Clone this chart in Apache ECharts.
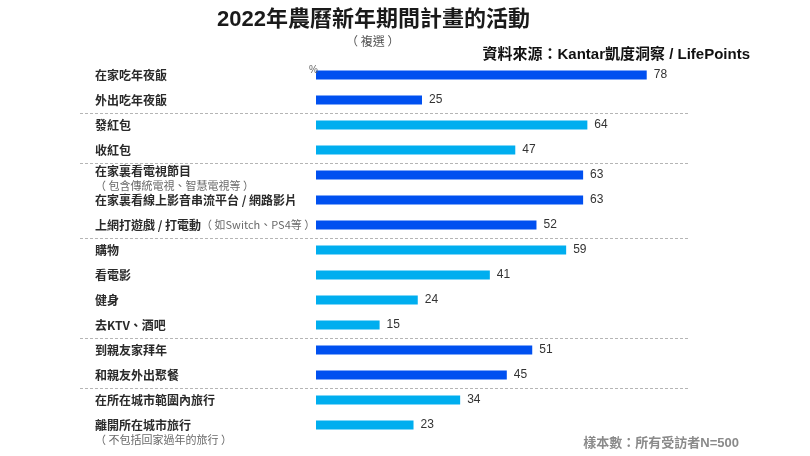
<!DOCTYPE html>
<html>
<head>
<meta charset="utf-8">
<script src="https://cdn.jsdelivr.net/npm/echarts@6/dist/echarts.min.js"></script>
<style>
html,body{margin:0;padding:0;background:#fff;}
#chart{width:810px;height:456px;}
</style>
</head>
<body>
<div id="chart"></div>
<script>
var categories = ['在家吃年夜飯','外出吃年夜飯','發紅包','收紅包','在家裏看電視節目','在家裏看線上影音串流平台 / 網路影片','上網打遊戲 / 打電動','購物','看電影','健身','去KTV、酒吧','到親友家拜年','和親友外出聚餐','在所在城市範圍內旅行','離開所在城市旅行'];
var notes = ['','','','','（ 包含傳統電視、智慧電視等 ）','','（ 如Switch、PS4等 ）','','','','','','','','（ 不包括回家過年的旅行 ）'];
var values = [78,25,64,47,63,63,52,59,41,24,15,51,45,34,23];
var colorGroup = [0,0,1,1,0,0,0,1,1,1,1,0,0,1,1];
var separatorsBefore = [2,4,7,11,13];

var FONT = '"Liberation Sans", "Noto Sans CJK TC", sans-serif';
var CJK = '"Noto Sans CJK TC", "Liberation Sans", sans-serif';
var palette = ['#0050f0','#00aeef'];

var chart = echarts.init(document.getElementById('chart'));
var option = {
  backgroundColor: '#fff',
  animation: false,
  title: [
    {text:'2022年農曆新年期間計畫的活動', left:212, top:4, textStyle:{fontFamily:FONT,fontSize:22,fontWeight:'bold',color:'#1a1a1a'}},
    {text:'（ 複選 ）', left:341, top:30, textStyle:{fontFamily:CJK,fontSize:12,fontWeight:'normal',color:'#555'}},
    {text:'資料來源：Kantar凱度洞察 / LifePoints', right:55, top:42, textStyle:{fontFamily:FONT,fontSize:15,fontWeight:'bold',color:'#111'}},
    {text:'%', left:304, top:60, textStyle:{fontFamily:FONT,fontSize:10,fontWeight:'normal',color:'#666'}},
    {text:'樣本數：所有受訪者N=500', right:66, top:432, textStyle:{fontFamily:FONT,fontSize:13,fontWeight:'bold',color:'#8a8a8a'}}
  ],
  grid: [
    {left:316, width:424, top:62.5, height:375}
  ],
  xAxis: [
    {type:'value', min:0, max:100, show:false}
  ],
  yAxis: [
    {
      type:'category', data:categories, inverse:true,
      axisLine:{show:false}, axisTick:{show:false}, splitLine:{show:false},
      axisLabel:{
        align:'left', margin:221, interval:0,
        formatter:function(v, i){
          var n = notes[i];
          if (!n) return '{m|' + v + '}';
          if (i === 6) return '{m|' + v + '}{s|' + n + '}';
          if (i === categories.length - 1) return '{g| }\n{m|' + v + '}\n{s|' + n + '}';
          return '{g2| }\n{m|' + v + '}\n{s|' + n + '}';
        },
        rich:{
          m:{fontFamily:CJK,fontSize:12,fontWeight:'bold',color:'#2a2a2a',lineHeight:15},
          s:{fontFamily:CJK,fontSize:11,fontWeight:'normal',color:'#6a6a6a',lineHeight:15},
          g:{fontSize:1,lineHeight:15},
          g2:{fontSize:1,lineHeight:7}
        }
      }
    }
  ],
  series: [
    {
      type:'bar', barWidth:9,
      data: values.map(function(v,i){ return {value:v, itemStyle:{color:palette[colorGroup[i]]}}; }),
      label:{show:true, position:'right', distance:7, fontFamily:'"Liberation Sans", Arial, sans-serif', fontSize:12, color:'#333'}
    }
  ]
};
chart.setOption(option);

// dashed group separators, placed through the category axis
var graphics = separatorsBefore.map(function(idx){
  var yA = chart.convertToPixel({yAxisIndex:0}, idx - 1);
  var yB = chart.convertToPixel({yAxisIndex:0}, idx);
  var y = Math.round((yA + yB) / 2) + 0.5;
  return {
    type:'line', silent:true,
    shape:{x1:80, y1:y, x2:688, y2:y},
    style:{stroke:'#b5b5b5', lineWidth:1, lineDash:[3,2]}
  };
});
chart.setOption({graphic: graphics});
</script>
</body>
</html>
